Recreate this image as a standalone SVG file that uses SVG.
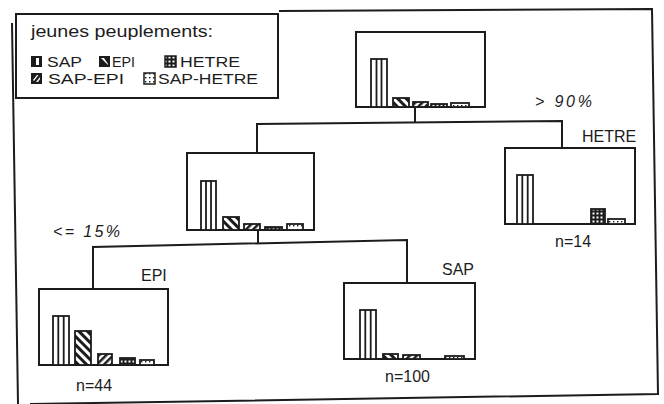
<svg xmlns="http://www.w3.org/2000/svg" width="664" height="404" viewBox="0 0 664 404">
<style>
.ln{stroke:#1c1c1c;stroke-width:2;fill:none}
.box{fill:#fff;stroke:#1c1c1c;stroke-width:2}
.bar{stroke:#1c1c1c;stroke-width:1.8}
.t{font-family:"Liberation Sans",Arial,sans-serif;fill:#1c1c1c;font-size:16px}
.lg{font-size:15px}
.i{font-style:italic}
</style>
<defs>
<pattern id="pEpi" patternUnits="userSpaceOnUse" width="6" height="6" patternTransform="rotate(-45)">
<rect width="6" height="6" fill="#fff"/><rect width="3" height="6" fill="#1c1c1c"/>
</pattern>
<pattern id="pSE" patternUnits="userSpaceOnUse" width="5" height="5" patternTransform="rotate(45)">
<rect width="5" height="5" fill="#fff"/><rect width="2.5" height="5" fill="#1c1c1c"/>
</pattern>
<pattern id="pH" patternUnits="userSpaceOnUse" width="4" height="4">
<rect width="4" height="4" fill="#1c1c1c"/><rect x="0.5" y="0.5" width="2" height="2" fill="#fff"/>
</pattern>
<pattern id="pSH" patternUnits="userSpaceOnUse" width="4" height="4">
<rect width="4" height="4" fill="#fff"/><rect x="1" y="1" width="1.4" height="1.4" fill="#1c1c1c"/>
</pattern>
</defs>
<rect width="664" height="404" fill="#fff"/>
<g id="frame">
<path class="ln" d="M12 23 L18 404 M279 11 L652 9 L658 394 L30 404"/>
</g>
<g id="legend">
<rect class="box" x="16" y="14" width="262" height="84"/>
<text class="t" x="31" y="37" font-size="17" textLength="182" lengthAdjust="spacingAndGlyphs">jeunes peuplements:</text>
<rect x="31" y="56" width="11" height="11" fill="#1c1c1c"/><rect x="36" y="58" width="3" height="7" fill="#fff"/>
<text class="t lg" x="47" y="67" textLength="35" lengthAdjust="spacingAndGlyphs">SAP</text>
<rect x="99" y="56" width="11" height="11" fill="#1c1c1c"/><path d="M101 58 L104 58 L108 64 L108 65 Z" fill="#fff"/>
<text class="t lg" x="112" y="67" textLength="23" lengthAdjust="spacingAndGlyphs">EPI</text>
<rect x="165" y="56" width="11" height="11" fill="url(#pH)" stroke="#1c1c1c" stroke-width="1.5"/>
<text class="t lg" x="180" y="67" textLength="60" lengthAdjust="spacingAndGlyphs">HETRE</text>
<rect x="31" y="73" width="11" height="11" fill="#1c1c1c"/><path d="M33 80 L37 75 L38.5 75 L34 81 Z M36 82 L40 77 L40 79 L38 82 Z" fill="#fff"/>
<text class="t lg" x="48" y="84" textLength="76" lengthAdjust="spacingAndGlyphs">SAP-EPI</text>
<rect x="144" y="73" width="11" height="11" fill="url(#pSH)" stroke="#1c1c1c" stroke-width="1.5"/>
<text class="t lg" x="158" y="84" textLength="100" lengthAdjust="spacingAndGlyphs">SAP-HETRE</text>
</g>
<g id="connectors">
<path class="ln" d="M415 107 V123 M257 153 V124 L562 121 V148"/>
<path class="ln" d="M258 230 V244 M93 289 V247 L407 240 V283"/>
</g>
<g id="root">
<rect class="box" x="356" y="32" width="129" height="75"/>
<rect class="bar" x="371" y="59" width="16" height="48" fill="#fff"/><path class="bar" d="M376.5 59 V107 M381.5 59 V107"/>
<rect class="bar" x="393" y="98" width="16" height="9" fill="url(#pEpi)"/>
<rect class="bar" x="413" y="102" width="15" height="5" fill="url(#pSE)"/>
<rect class="bar" x="431" y="104" width="16" height="3" fill="url(#pH)"/>
<rect class="bar" x="451" y="103" width="18" height="4" fill="url(#pSH)"/>
<text class="t i" x="535" y="107" font-size="17" textLength="57" lengthAdjust="spacing">&gt; 90%</text>
</g>
<g id="mid">
<rect class="box" x="187" y="153" width="127" height="77"/>
<rect class="bar" x="201" y="181" width="15" height="49" fill="#fff"/><path class="bar" d="M206 181 V230 M211 181 V230"/>
<rect class="bar" x="223" y="217" width="16" height="13" fill="url(#pEpi)"/>
<rect class="bar" x="244" y="224" width="16" height="6" fill="url(#pSE)"/>
<rect class="bar" x="265" y="227" width="17" height="3" fill="url(#pH)"/>
<rect class="bar" x="287" y="224" width="16" height="6" fill="url(#pSH)"/>
<text class="t i" x="53" y="237" font-size="17" textLength="67" lengthAdjust="spacing">&lt;= 15%</text>
</g>
<g id="hetre">
<rect class="box" x="505" y="148" width="130" height="76"/>
<rect class="bar" x="517" y="175" width="16" height="49" fill="#fff"/><path class="bar" d="M522.3 175 V224 M527.7 175 V224"/>
<rect class="bar" x="591" y="209" width="14" height="15" fill="url(#pH)"/>
<rect class="bar" x="608" y="219" width="17" height="5" fill="url(#pSH)"/>
<text class="t" x="582" y="142" font-size="15.5">HETRE</text>
<text class="t" x="555" y="247" font-size="16.5">n=14</text>
</g>
<g id="epi">
<rect class="box" x="39" y="289" width="129" height="76"/>
<rect class="bar" x="53" y="316" width="16" height="49" fill="#fff"/><path class="bar" d="M58.3 316 V365 M63.7 316 V365"/>
<rect class="bar" x="75" y="331" width="16" height="34" fill="url(#pEpi)"/>
<rect class="bar" x="98" y="354" width="14" height="11" fill="url(#pSE)"/>
<rect class="bar" x="120" y="358" width="15" height="7" fill="url(#pH)"/>
<rect class="bar" x="140" y="360" width="14" height="5" fill="url(#pSH)"/>
<text class="t" x="141" y="281" font-size="14">EPI</text>
<text class="t" x="76" y="391" font-size="17">n=44</text>
</g>
<g id="sap">
<rect class="box" x="344" y="283" width="131" height="76"/>
<rect class="bar" x="360" y="310" width="16" height="49" fill="#fff"/><path class="bar" d="M365.3 310 V359 M370.7 310 V359"/>
<rect class="bar" x="383" y="354" width="15" height="5" fill="url(#pEpi)"/>
<rect class="bar" x="403" y="355" width="17" height="4" fill="url(#pSE)"/>
<rect class="bar" x="445" y="356" width="19" height="3" fill="url(#pSH)"/>
<text class="t" x="442" y="275" font-size="17">SAP</text>
<text class="t" x="385" y="382" font-size="17">n=100</text>
</g>
</svg>
